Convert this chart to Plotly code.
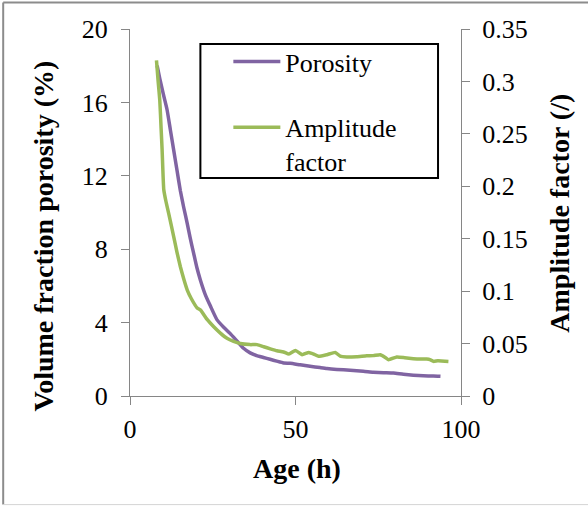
import plotly.graph_objects as go

# Porosity (left axis, %)
age_porosity = [8.2, 9.0, 10.0, 11.2, 12.2, 13.2, 14.2, 15.2, 16.2, 17.3, 18.2, 19.2, 20.2, 21.3,
                22.8, 24.3, 26.3, 28.3, 30.3, 32.3, 34.3, 36.3, 38.3, 40.3, 42.3, 44.3, 46.4,
                48.4, 51.4, 54.4, 57.4, 59.5, 62.5, 66.5, 70.5, 73.5, 76.6, 79.6, 82.6, 85.6,
                88.6, 91.6, 93.8]
porosity = [18.0, 17.3, 16.5, 15.6, 14.5, 13.4, 12.3, 11.2, 10.3, 9.4, 8.6, 7.8, 7.0, 6.3,
            5.5, 4.9, 4.15, 3.75, 3.4, 3.0, 2.6, 2.35, 2.2, 2.1, 2.0, 1.9, 1.8,
            1.78, 1.70, 1.62, 1.55, 1.50, 1.45, 1.40, 1.35, 1.30, 1.27, 1.25, 1.18, 1.13,
            1.10, 1.09, 1.07]

# Amplitude factor (right axis, /)
age_amplitude = [8.0, 8.5, 9.0, 9.4, 9.7, 10.2, 10.9, 11.7, 13.2, 14.2, 15.2, 16.2, 17.3, 18.5,
                 20.3, 21.3, 23.3, 25.3, 27.3, 29.3, 31.3, 33.3, 36.3, 38.4, 40.4, 42.4, 44.4,
                 46.4, 48.0, 50.0, 52.0, 54.0, 55.5, 57.0, 59.5, 62.0, 63.5, 65.5, 68.5, 71.5,
                 73.5, 75.6, 77.0, 78.1, 80.6, 83.0, 85.6, 87.5, 89.6, 90.8, 91.7, 93.0, 96.2]
amplitude = [0.320, 0.300, 0.282, 0.255, 0.235, 0.197, 0.185, 0.174, 0.152, 0.137, 0.1235, 0.112,
             0.101, 0.093, 0.084, 0.082, 0.073, 0.066, 0.060, 0.055, 0.052, 0.050, 0.049, 0.049,
             0.047, 0.045, 0.0432, 0.042, 0.040, 0.0435, 0.0394, 0.0416, 0.040, 0.0378, 0.0394,
             0.0416, 0.038, 0.0372, 0.0375, 0.0384, 0.0385, 0.0394, 0.037, 0.0346, 0.0372,
             0.0365, 0.0356, 0.0352, 0.0353, 0.0345, 0.033, 0.0335, 0.033]

x_ticks = [0, 50, 100]
y_left_ticks = [0, 4, 8, 12, 16, 20]
y_right_ticks = [0, 0.05, 0.1, 0.15, 0.2, 0.25, 0.3, 0.35]
y_right_labels = ["0", "0.05", "0.1", "0.15", "0.2", "0.25", "0.3", "0.35"]

PURPLE = "#8064A2"
GREEN = "#9BBB59"
AXIS = "#868686"
FONT = "Liberation Serif"

fig = go.Figure()
fig.add_trace(go.Scatter(x=age_porosity, y=porosity, mode="lines", name="Porosity",
                         line=dict(color=PURPLE, width=3.5, shape="spline", smoothing=0.5),
                         legendgroup="a"))
fig.add_trace(go.Scatter(x=age_amplitude, y=amplitude, mode="lines", name="Amplitude<br>factor",
                         line=dict(color=GREEN, width=3.5, shape="spline", smoothing=0.4),
                         yaxis="y2", legendgroup="b"))

W, H = 588, 506
L, R, T, B = 129.5, 461.0, 29.0, 396.3
pw, ph = R - L, B - T


def px(x):
    return (x - L) / pw


def py(y):
    return (B - y) / ph


axis_common = dict(showgrid=False, zeroline=False, showline=True, linecolor=AXIS, linewidth=1,
                   ticks="outside", ticklen=8, tickcolor=AXIS, tickwidth=1,
                   tickfont=dict(family=FONT, size=26, color="black"))

fig.update_layout(
    width=W, height=H,
    margin=dict(l=L, r=W - R, t=T, b=H - B, pad=0),
    paper_bgcolor="white", plot_bgcolor="white",
    showlegend=True,
    xaxis=dict(range=[0, 100], tickvals=x_ticks, ticklabelstandoff=2, **axis_common),
    yaxis=dict(range=[0, 20], tickvals=y_left_ticks, ticklabelstandoff=8, **axis_common),
    yaxis2=dict(range=[0, 0.35], tickvals=y_right_ticks, ticktext=y_right_labels,
                overlaying="y", side="right", ticklabelstandoff=7, **axis_common),
    legend=dict(x=px(228), y=py(38), xanchor="left", yanchor="top",
                bgcolor="rgba(0,0,0,0)", borderwidth=0, valign="top",
                itemwidth=47,
                traceorder="grouped", tracegroupgap=29,
                font=dict(family=FONT, size=26, color="black")),
    shapes=[
        # legend frame
        dict(type="rect", xref="paper", yref="paper", x0=px(200), x1=px(438), y0=py(178), y1=py(44),
             line=dict(color="black", width=2), fillcolor="white", layer="above"),
        # outer chart frame
        dict(type="line", xref="paper", yref="paper", x0=px(2.5), x1=px(2.5), y0=py(505), y1=py(2.5),
             line=dict(color="#8c8c8c", width=2)),
        dict(type="line", xref="paper", yref="paper", x0=px(2.5), x1=px(590), y0=py(2.5), y1=py(2.5),
             line=dict(color="#8c8c8c", width=2)),
        dict(type="line", xref="paper", yref="paper", x0=px(2.5), x1=px(590), y0=py(505), y1=py(505),
             line=dict(color="#d4d4d4", width=1)),
    ],
    annotations=[
        dict(text="<b>Volume fraction porosity (%)</b>", xref="paper", yref="paper",
             x=px(43), y=py(236), textangle=-90, showarrow=False, xanchor="center", yanchor="middle",
             font=dict(family=FONT, size=28, color="black")),
        dict(text="<b>Amplitude factor (/)</b>", xref="paper", yref="paper",
             x=px(560), y=py(213), textangle=-90, showarrow=False, xanchor="center", yanchor="middle",
             font=dict(family=FONT, size=28, color="black")),
        dict(text="<b>Age (h)</b>", xref="paper", yref="paper",
             x=px(296.5), y=py(469), showarrow=False, xanchor="center", yanchor="middle",
             font=dict(family=FONT, size=28, color="black")),
    ],
)

fig.write_html("out.html", config={"displayModeBar": False},
               post_script="document.body.style.margin='0';")
